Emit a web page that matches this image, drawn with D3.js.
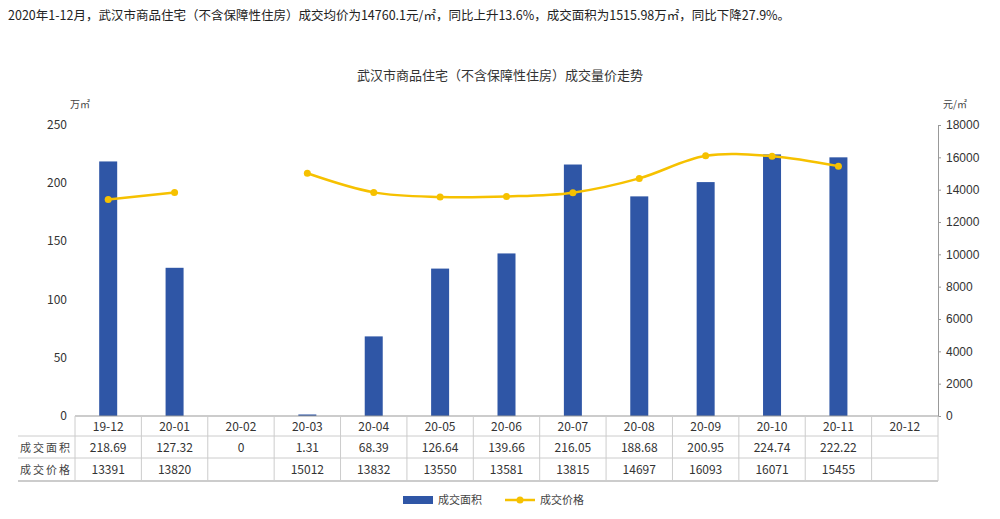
<!DOCTYPE html><html><head><meta charset="utf-8"><script src="https://cdn.jsdelivr.net/npm/d3@7"></script>
<style>body{margin:0;background:#fff;font-family:"Noto Sans CJK SC","Noto Sans",sans-serif}</style></head><body>
<svg id="c" width="1000" height="519"></svg>
<script>
const categories=["19-12","20-01","20-02","20-03","20-04","20-05","20-06","20-07","20-08","20-09","20-10","20-11","20-12"];
const areaValues=[218.69,127.32,0,1.31,68.39,126.64,139.66,216.05,188.68,200.95,224.74,222.22,null];
const areaLabels=["218.69","127.32","0","1.31","68.39","126.64","139.66","216.05","188.68","200.95","224.74","222.22",""];
const priceValues=[13391,13820,null,15012,13832,13550,13581,13815,14697,16093,16071,15455,null];
const leftTicks=[0,50,100,150,200,250];
const rightTicks=[0,2000,4000,6000,8000,10000,12000,14000,16000,18000];
const svg=d3.select("#c");
const blue="#2f56a6",yellow="#f6c100",grid="#bbb";
const x=d3.scaleBand().domain(categories).range([75,938]);
const yL=d3.scaleLinear().domain([0,250]).range([416,125]);
const yR=d3.scaleLinear().domain([0,18000]).range([416,125]);
svg.append("text").attr("x",8).attr("y",20).attr("font-size",12.5).attr("fill","#222")
 .text("2020年1-12月，武汉市商品住宅（不含保障性住房）成交均价为14760.1元/㎡，同比上升13.6%，成交面积为1515.98万㎡，同比下降27.9%。");
svg.append("text").attr("x",500).attr("y",80).attr("text-anchor","middle").attr("font-size",13).attr("fill","#333").text("武汉市商品住宅（不含保障性住房）成交量价走势");
svg.append("text").attr("x",70).attr("y",108).attr("font-size",10).attr("fill","#444").text("万㎡");
svg.append("text").attr("x",943).attr("y",108).attr("font-size",10).attr("fill","#444").text("元/㎡");
// axes
const gL=svg.append("g").attr("transform","translate(0,0)");
gL.selectAll("text").data(leftTicks).join("text").attr("x",67).attr("y",d=>yL(d)+4).attr("text-anchor","end").attr("font-size",12).attr("fill","#333").text(d=>d);
const gR=svg.append("g").attr("transform","translate(938,0)").call(d3.axisRight(yR).tickValues(rightTicks).tickSize(3).tickFormat(d=>d));
gR.select(".domain").attr("stroke","#999");gR.selectAll("line").attr("stroke","#999");
gR.selectAll("text").attr("font-size",12).attr("fill","#333").attr("x",8);
// bars
svg.selectAll("rect.bar").data(categories.map((c,i)=>({c,v:areaValues[i]})).filter(d=>d.v!=null&&d.v>0))
 .join("rect").attr("fill",blue).attr("x",d=>x(d.c)+x.bandwidth()/2-9).attr("width",18)
 .attr("y",d=>yL(d.v)).attr("height",d=>416-yL(d.v));
// line
const pts=categories.map((c,i)=>({c,v:priceValues[i]}));
const line=d3.line().defined(d=>d.v!=null).x(d=>x(d.c)+x.bandwidth()/2).y(d=>yR(d.v)).curve(d3.curveCatmullRom);
svg.append("path").attr("d",line(pts)).attr("fill","none").attr("stroke",yellow).attr("stroke-width",2.5);
svg.selectAll("circle.p").data(pts.filter(d=>d.v!=null)).join("circle").attr("cx",d=>x(d.c)+x.bandwidth()/2).attr("cy",d=>yR(d.v)).attr("r",3.5).attr("fill",yellow);
// table
svg.append("line").attr("x1",75).attr("x2",938).attr("y1",416).attr("y2",416).attr("stroke","#999");
[436,458].forEach(y=>svg.append("line").attr("x1",18).attr("x2",938).attr("y1",y).attr("y2",y).attr("stroke","#ccc"));
svg.append("line").attr("x1",18).attr("x2",938).attr("y1",481).attr("y2",481).attr("stroke","#999");
categories.forEach((c,i)=>{svg.append("line").attr("x1",x(c)).attr("x2",x(c)).attr("y1",416).attr("y2",481).attr("stroke","#ccc");});
svg.append("line").attr("x1",938).attr("x2",938).attr("y1",416).attr("y2",481).attr("stroke","#ccc");
const cx=c=>x(c)+x.bandwidth()/2;
svg.selectAll("text.cat").data(categories).join("text").attr("x",cx).attr("y",431).attr("text-anchor","middle").attr("font-size",12).attr("fill","#333").text(d=>d);
svg.selectAll("text.a").data(categories).join("text").attr("x",cx).attr("y",452).attr("text-anchor","middle").attr("font-size",12).attr("fill","#333").text((d,i)=>areaLabels[i]);
svg.selectAll("text.pr").data(categories).join("text").attr("x",cx).attr("y",474).attr("text-anchor","middle").attr("font-size",12).attr("fill","#333").text((d,i)=>priceValues[i]==null?"":priceValues[i]);
svg.append("text").attr("x",20).attr("y",452).attr("font-size",11).attr("fill","#444").attr("letter-spacing",2).text("成交面积");
svg.append("text").attr("x",20).attr("y",474).attr("font-size",11).attr("fill","#444").attr("letter-spacing",2).text("成交价格");
// legend
svg.append("rect").attr("x",403).attr("y",496).attr("width",30).attr("height",8).attr("fill",blue);
svg.append("text").attr("x",438).attr("y",504).attr("font-size",11).attr("fill","#444").text("成交面积");
svg.append("line").attr("x1",505).attr("x2",535).attr("y1",500).attr("y2",500).attr("stroke",yellow).attr("stroke-width",2.5);
svg.append("circle").attr("cx",520).attr("cy",500).attr("r",3.5).attr("fill",yellow);
svg.append("text").attr("x",540).attr("y",504).attr("font-size",11).attr("fill","#444").text("成交价格");
</script></body></html>
